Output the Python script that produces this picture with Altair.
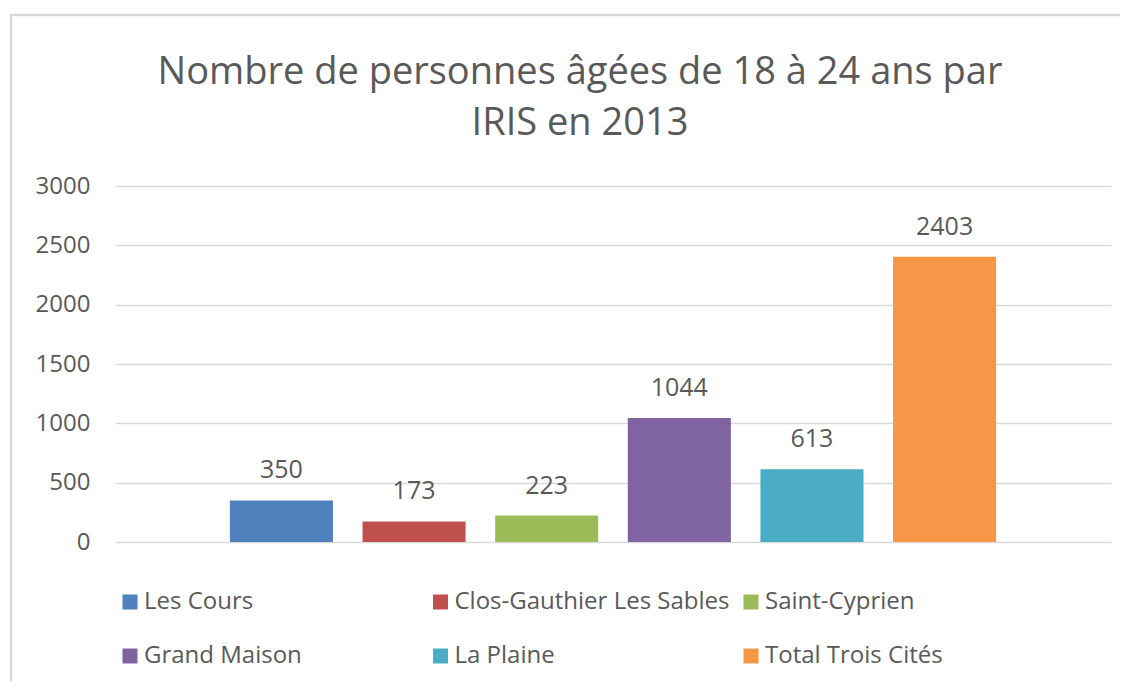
import altair as alt
import pandas as pd

series = ["Les Cours", "Clos-Gauthier Les Sables", "Saint-Cyprien",
          "Grand Maison", "La Plaine", "Total Trois Cités"]
values = [350, 173, 223, 1044, 613, 2403]
colors = ["#4F81BD", "#C0504D", "#9BBB59", "#8064A2", "#4BACC6", "#F79646"]
y_ticks = [0, 500, 1000, 1500, 2000, 2500, 3000]
title_lines = ["Nombre de personnes âgées de 18 à 24 ans par", "IRIS en 2013"]

FONT = "Open Sans"
TXT = "#595959"

df = pd.DataFrame({"serie": series, "valeur": values})

x_enc = alt.X("serie:N", sort=series, axis=None,
              scale=alt.Scale(paddingInner=0.223, paddingOuter=0.866))
y_enc = alt.Y("valeur:Q", scale=alt.Scale(domain=[0, 3000], nice=False),
              axis=alt.Axis(values=y_ticks, format="d", title=None, grid=True,
                            gridColor="#D9D9D9", gridWidth=1.3, domain=False,
                            ticks=False, tickSize=0, labelPadding=25,
                            labelFontSize=24, labelFont=FONT, labelColor=TXT))

bars = alt.Chart(df).mark_bar(strokeWidth=0).encode(
    x=x_enc,
    y=y_enc,
    color=alt.Color("serie:N", sort=series,
                    scale=alt.Scale(domain=series, range=colors),
                    legend=alt.Legend(title=None, orient="none", legendX=3, legendY=404,
                                      direction="horizontal", columns=3, gridAlign="all",
                                      columnPadding=9.5, rowPadding=30,
                                      symbolType="square", symbolSize=225,
                                      symbolStrokeWidth=0, labelOffset=2,
                                      labelFontSize=24, labelFont=FONT, labelColor=TXT,
                                      labelLimit=0, padding=0)),
)

labels = alt.Chart(df).mark_text(baseline="alphabetic", dy=-22, fontSize=25,
                                 font=FONT, color=TXT).encode(
    x=alt.X("serie:N", sort=series, axis=None),
    y=alt.Y("valeur:Q"),
    text=alt.Text("valeur:Q", format="d"),
)

frame = alt.Chart(pd.DataFrame({"f": [0]})).mark_rect(
    fill=None, stroke="#D9D9D9", strokeWidth=2.5).encode(
    x=alt.value(-104), x2=alt.value(1040), y=alt.value(-171), y2=alt.value(520))

chart = alt.layer(frame, bars, labels).properties(
    width=996, height=356,
    autosize=alt.AutoSizeParams(type="none"),
    padding={"left": 107, "top": 178, "right": 9, "bottom": 139},
    title=alt.TitleParams(text=title_lines, fontSize=38, font=FONT, color=TXT,
                          fontWeight="normal", anchor="middle", dx=-33,
                          lineHeight=51, offset=-129),
).configure_view(stroke=None)

chart.save("out.html", embed_options={"renderer": "svg", "actions": False})
